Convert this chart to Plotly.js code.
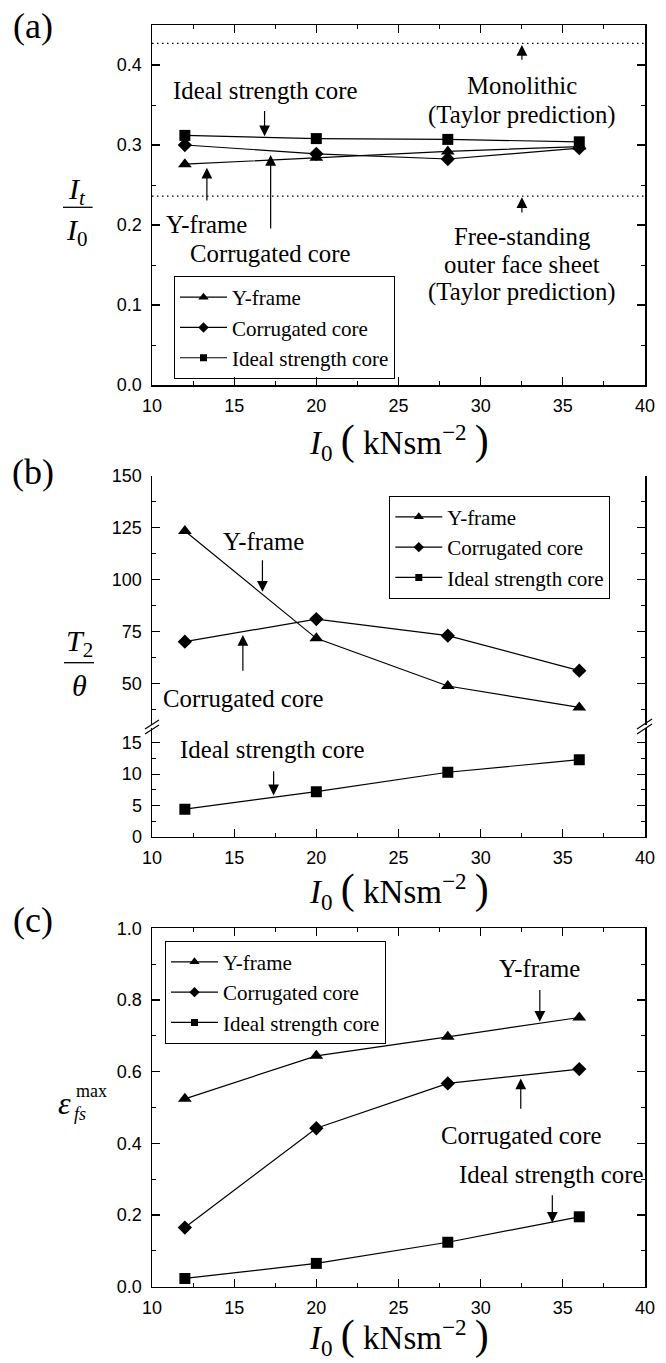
<!DOCTYPE html>
<html><head><meta charset="utf-8">
<script src="https://cdn.plot.ly/plotly-3.0.1.min.js"></script>
<style>html,body{margin:0;padding:0;background:#fff}#plot{width:666px;height:1363px}</style>
</head><body><div id="plot"></div>
<script>
// ---------------- data ----------------
const seriesNames = ['Y-frame', 'Corrugated core', 'Ideal strength core'];
const impulse = [12, 20, 28, 36];            // I0 (kNs/m^2)
const xRange = [10, 40];
// (a) transmitted impulse ratio It/I0
const aYframe = [0.276, 0.284, 0.292, 0.298];
const aCorr   = [0.300, 0.289, 0.2825, 0.296];
const aIdeal  = [0.312, 0.308, 0.307, 0.304];
const taylorMonolithic = 0.427;
const taylorFreeSheet  = 0.236;
// (b) T2/theta
const bYframe = [123.5, 71.7, 48.7, 38.4];
const bCorr   = [70.1, 81.0, 73.0, 56.1];
const bIdeal  = [4.4, 7.2, 10.3, 12.3];
// (c) max face-sheet strain
const cYframe = [0.524, 0.644, 0.697, 0.751];
const cCorr   = [0.165, 0.442, 0.567, 0.607];
const cIdeal  = [0.023, 0.065, 0.124, 0.195];

// ---------------- helpers ----------------
const W = 666, H = 1363, L = 152, R = 21, PW = W - L - R;
const px = x => (x - L) / PW;
const py = y => 1 - y / H;
const SERIF = '"Liberation Serif", "Times New Roman", Times, serif';
const SANS = '"Liberation Sans", Arial, Helvetica, sans-serif';
const symbols = ['triangle-up', 'diamond', 'square'];
const msize = [12, 11, 11];
const lsize = [9, 8, 7];

function line(name, i, x, y, xa, ya) {
  return {type: 'scatter', mode: 'lines+markers', name: name, x: x, y: y, xaxis: xa, yaxis: ya,
    showlegend: false, line: {color: '#000', width: 1.2},
    marker: {symbol: symbols[i], size: msize[i], color: '#000'}, hoverinfo: 'skip'};
}
function legendItem(i, xa, ya, leg) {
  return {type: 'scatter', mode: 'lines+markers', name: seriesNames[i], x: [null], y: [null],
    xaxis: xa, yaxis: ya, legend: leg, showlegend: true,
    line: {color: '#000', width: 1.2}, marker: {symbol: symbols[i], size: lsize[i], color: '#000'}};
}
function refLine(val, xa, ya) {
  return {type: 'scatter', mode: 'lines', x: xRange, y: [val, val], xaxis: xa, yaxis: ya,
    showlegend: false, line: {color: '#000', width: 1.2, dash: '1.5px,3.5px'}, hoverinfo: 'skip'};
}

const traces = [];
// panel a
traces.push(refLine(taylorMonolithic, 'x', 'y'));
traces.push(refLine(taylorFreeSheet, 'x', 'y'));
traces.push(line(seriesNames[0], 0, impulse, aYframe, 'x', 'y'));
traces.push(line(seriesNames[1], 1, impulse, aCorr, 'x', 'y'));
traces.push(line(seriesNames[2], 2, impulse, aIdeal, 'x', 'y'));
// panel b
traces.push(line(seriesNames[0], 0, impulse, bYframe, 'x2', 'y3'));
traces.push(line(seriesNames[1], 1, impulse, bCorr, 'x2', 'y3'));
traces.push(line(seriesNames[2], 2, impulse, bIdeal, 'x2', 'y2'));
// panel c
traces.push(line(seriesNames[0], 0, impulse, cYframe, 'x4', 'y4'));
traces.push(line(seriesNames[1], 1, impulse, cCorr, 'x4', 'y4'));
traces.push(line(seriesNames[2], 2, impulse, cIdeal, 'x4', 'y4'));
// legends
[0,1,2].forEach(i => traces.push(legendItem(i, 'x', 'y', 'legend')));
[0,1,2].forEach(i => traces.push(legendItem(i, 'x2', 'y3', 'legend2')));
[0,1,2].forEach(i => traces.push(legendItem(i, 'x4', 'y4', 'legend3')));

function axisBase(extra) {
  return Object.assign({
    ticks: 'inside', ticklen: 8, tickwidth: 1.2, tickcolor: '#000',
    showline: true, linewidth: 1.5, linecolor: '#000', mirror: 'allticks',
    showgrid: false, zeroline: false, fixedrange: true,
    tickfont: {family: SANS, size: 18, color: '#000'}
  }, extra);
}
const xcommon = {range: xRange, tick0: 10, dtick: 5,
  minor: {dtick: 2.5, ticks: 'inside', ticklen: 4, tickwidth: 1, tickcolor: '#000', showgrid: false},
  ticklabelstandoff: 4};

const domA = [py(385), py(25)];
const domBlo = [py(836.7), py(727.8)];
const domBhi = [py(724.8), py(476)];
const domC = [py(1286.7), py(928.2)];

function legendBox(x, y) {
  return {x: px(x), y: py(y), xanchor: 'left', yanchor: 'top', bordercolor: '#000', borderwidth: 1,
    bgcolor: 'rgba(255,255,255,0)', font: {family: SERIF, size: 21, color: '#000'},
    itemwidth: 47, tracegroupgap: 0, itemclick: false, itemdoubleclick: false};
}

function txt(xref, yref, x, y, text, size) {
  return {xref: xref, yref: yref, x: x, y: y, text: text, showarrow: false,
    xanchor: 'center', yanchor: 'middle', font: {family: SERIF, size: size || 24.8, color: '#000'}};
}
function arrow(xref, yref, x, yHead, yTail) {
  return {xref: xref, yref: yref, x: x, y: yHead, ax: x, ay: yTail, axref: xref, ayref: yref,
    text: ' ', showarrow: true, arrowhead: 2, arrowsize: 1.8, arrowwidth: 1.2, arrowcolor: '#000', standoff: 0};
}
function ptxt(x, y, text, size, extra) {
  return Object.assign({xref: 'paper', yref: 'paper', x: px(x), y: py(y), text: text, showarrow: false,
    xanchor: 'center', yanchor: 'middle', font: {family: SERIF, size: size, color: '#000'}}, extra || {});
}
const xTitle = '<i>I</i><sub>0</sub> <span style="font-size:42px">(</span> kNsm<sup>−2</sup> <span style="font-size:42px">)</span>';

const annotations = [
  // panel a
  txt('x', 'y', 16.88, 0.368, 'Ideal strength core'),
  txt('x', 'y', 32.51, 0.374, 'Monolithic'),
  txt('x', 'y', 32.51, 0.338, '(Taylor prediction)'),
  txt('x', 'y', 13.29, 0.200, 'Y-frame'),
  txt('x', 'y', 17.2, 0.1646, 'Corrugated core'),
  txt('x', 'y', 32.51, 0.186, 'Free-standing'),
  txt('x', 'y', 32.51, 0.151, 'outer face sheet'),
  txt('x', 'y', 32.51, 0.116, '(Taylor prediction)'),
  arrow('x', 'y', 16.85, 0.311, 0.353),
  arrow('x', 'y', 13.34, 0.2716, 0.22),
  arrow('x', 'y', 17.22, 0.2875, 0.185),
  arrow('x', 'y', 32.51, 0.425, 0.396),
  arrow('x', 'y', 32.51, 0.2346, 0.205),
  // panel b
  txt('x2', 'y3', 16.77, 118.3, 'Y-frame'),
  txt('x2', 'y3', 15.52, 42.8, 'Corrugated core'),
  txt('x2', 'y2', 17.35, 13.9, 'Ideal strength core'),
  arrow('x2', 'y3', 16.72, 94.2, 113.5),
  arrow('x2', 'y3', 15.53, 73.3, 52),
  arrow('x2', 'y2', 17.4, 6.6, 11.8),
  // panel c
  txt('x4', 'y4', 33.6, 0.888, 'Y-frame'),
  txt('x4', 'y4', 32.45, 0.423, 'Corrugated core'),
  txt('x4', 'y4', 34.28, 0.3116, 'Ideal strength core'),
  arrow('x4', 'y4', 33.6, 0.739, 0.851),
  arrow('x4', 'y4', 32.44, 0.581, 0.4725),
  arrow('x4', 'y4', 34.36, 0.1785, 0.279),
  // panel labels
  ptxt(33, 26, '(a)', 36),
  ptxt(33, 472, '(b)', 36),
  ptxt(33, 920, '(c)', 36),
  // x titles
  ptxt(399, 441, xTitle, 33),
  ptxt(399, 890, xTitle, 33),
  ptxt(399, 1336, xTitle, 33),
  // y titles
  ptxt(77, 191, '<i>I</i><sub><i>t</i></sub>', 30),
  ptxt(77, 232, '<i>I</i><sub>0</sub>', 30),
  ptxt(79, 643, '<i>T</i><sub>2</sub>', 30),
  ptxt(79, 685, '<i>θ</i>', 30),
  ptxt(64, 1103, '<i>ε</i>', 32),
  ptxt(91, 1091, 'max', 18),
  ptxt(80, 1114, '<i>fs</i>', 18)
];

function seg(x0, y0, x1, y1, w) {
  return {type: 'line', xref: 'paper', yref: 'paper', x0: px(x0), y0: py(y0), x1: px(x1), y1: py(y1),
    line: {color: '#000', width: w || 1.2}};
}
const shapes = [
  seg(63, 207.3, 92.6, 207.3, 1.3),
  seg(64, 662.7, 94, 662.7, 1.3),
  // axis break marks
  seg(145, 734, 159, 725), seg(145, 729, 159, 720),
  seg(637, 734, 652, 724), seg(637, 729, 652, 719)
];

const layout = {
  width: W, height: H, margin: {l: L, r: R, t: 0, b: 0},
  font: {family: SERIF, color: '#000'},
  paper_bgcolor: '#fff', plot_bgcolor: '#fff', showlegend: true,
  xaxis: axisBase(Object.assign({}, xcommon, {anchor: 'y', domain: [0, 1]})),
  yaxis: axisBase({anchor: 'x', domain: domA, range: [0, 0.45], dtick: 0.1, tick0: 0, tickformat: '.1f',
    minor: {dtick: 0.05, ticks: 'inside', ticklen: 4, tickwidth: 1, tickcolor: '#000'}, ticklabelstandoff: 5}),
  xaxis2: axisBase(Object.assign({}, xcommon, {anchor: 'y2', domain: [0, 1], mirror: false})),
  yaxis2: axisBase({anchor: 'x2', domain: domBlo, range: [0, 17.4], dtick: 5, tick0: 0,
    minor: {dtick: 2.5, ticks: 'inside', ticklen: 4, tickwidth: 1, tickcolor: '#000'}, ticklabelstandoff: 5}),
  yaxis3: axisBase({anchor: 'x2', domain: domBhi, range: [30, 150], dtick: 25, tick0: 0,
    minor: {dtick: 12.5, ticks: 'inside', ticklen: 4, tickwidth: 1, tickcolor: '#000'}, ticklabelstandoff: 5}),
  xaxis3: axisBase(Object.assign({}, xcommon, {anchor: 'y3', side: 'top', matches: 'x2', domain: [0, 1],
    showticklabels: false, mirror: false})),
  xaxis4: axisBase(Object.assign({}, xcommon, {anchor: 'y4', domain: [0, 1]})),
  yaxis4: axisBase({anchor: 'x4', domain: domC, range: [0, 1], dtick: 0.2, tick0: 0, tickformat: '.1f',
    minor: {dtick: 0.1, ticks: 'inside', ticklen: 4, tickwidth: 1, tickcolor: '#000'}, ticklabelstandoff: 5}),
  legend: legendBox(174, 276),
  legend2: legendBox(389.3, 495.7),
  legend3: legendBox(165, 940.7),
  annotations: annotations,
  shapes: shapes
};

Plotly.newPlot('plot', traces, layout, {staticPlot: true, displayModeBar: false});
</script></body></html>
